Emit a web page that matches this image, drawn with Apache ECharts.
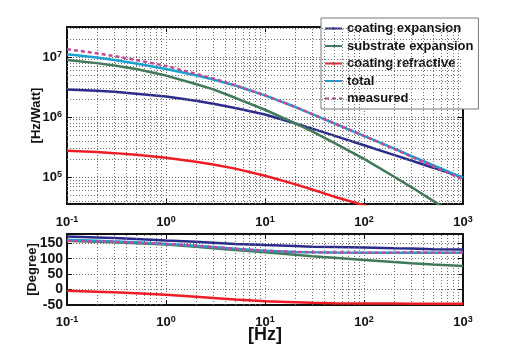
<!DOCTYPE html>
<html>
<head>
<meta charset="utf-8">
<title>Transfer function</title>
<script src="https://cdn.jsdelivr.net/npm/echarts@6/dist/echarts.min.js"></script>
<style>
  html, body { margin: 0; padding: 0; background: #fff; }
  #main { width: 512px; height: 345px; }
</style>
</head>
<body>
<div id="main"></div>
<script>
// frequency points [Hz]
var freq = [0.1, 0.2, 0.3, 0.5, 1, 2, 3, 5, 10, 20, 30, 50, 100, 200, 300, 500, 1000];

// magnitude [Hz/Watt]
var magCoatingExp = [2.88e6, 2.75e6, 2.63e6, 2.45e6, 2.19e6, 1.86e6, 1.66e6, 1.41e6, 1.10e6, 7.85e5, 6.4e5, 4.9e5, 3.39e5, 2.34e5, 1.88e5, 1.43e5, 9.8e4];
var magSubstrateExp = [8.9e6, 7.9e6, 7.2e6, 6.3e6, 4.9e6, 3.55e6, 2.88e6, 2.09e6, 1.32e6, 7.9e5, 5.75e5, 3.7e5, 2.0e5, 1.02e5, 6.8e4, 4.0e4, 1.9e4];
var magCoatingRefr = [2.75e5, 2.6e5, 2.5e5, 2.34e5, 2.09e5, 1.8e5, 1.62e5, 1.38e5, 1.05e5, 7.6e4, 6.2e4, 4.7e4, 3.4e4, 2.3e4, 1.8e4, 1.3e4, 8.5e3];
var magTotal = [1.11e7, 9.8e6, 8.9e6, 7.8e6, 6.3e6, 4.95e6, 4.22e6, 3.35e6, 2.29e6, 1.48e6, 1.12e6, 7.85e5, 4.84e5, 2.99e5, 2.24e5, 1.57e5, 9.7e4];
var magMeasured = [1.35e7, 1.15e7, 1.035e7, 8.9e6, 7.1e6, 5.25e6, 4.37e6, 3.39e6, 2.29e6, 1.48e6, 1.12e6, 7.85e5, 4.84e5, 2.95e5, 2.19e5, 1.51e5, 9.1e4];

// phase [Degree]
var phCoatingExp = [172, 169, 167, 164, 159, 155, 152, 148, 144, 141, 139, 138, 136, 134, 133, 131, 130];
var phSubstrateExp = [158, 155, 153, 150, 146, 139, 134, 128, 121, 113, 108, 103, 96, 89, 85, 81, 76];
var phCoatingRefr = [-4, -7, -9, -12, -17, -23, -27, -32, -38, -41, -43, -44, -45, -45, -46, -46, -46];
var phTotal = [161, 158, 156, 153, 148, 142, 138, 132, 126, 122, 121, 120, 119, 119, 119, 119, 119];
var phMeasured = [158, 156, 155, 152, 148, 142, 138, 132, 126, 122, 121, 120, 119, 119, 121, 119, 119];

var names = ['coating expansion', 'substrate expansion', 'coating refractive', 'total', 'measured'];
var colors = ['#2b2b8c', '#3f7a58', '#ee1c25', '#1aa0d2', '#c24b94'];
var magSets = [magCoatingExp, magSubstrateExp, magCoatingRefr, magTotal, magMeasured];
var phSets = [phCoatingExp, phSubstrateExp, phCoatingRefr, phTotal, phMeasured];

var FONT = '"Liberation Sans", Arial, Helvetica, sans-serif';
var magMin = 35500, magMax = 3.16e7;

function pairs(ys) {
    return freq.map(function (f, i) { return [f, ys[i]]; });
}

// minor grid positions (2..9 in each decade)
var xMinor = [];
[0.1, 1, 10, 100].forEach(function (d) {
    for (var k = 2; k <= 9; k++) xMinor.push(+(k * d).toPrecision(3));
});
var yMinor = [];
[1e4, 1e5, 1e6, 1e7].forEach(function (d) {
    for (var k = 2; k <= 9; k++) {
        var v = k * d;
        if (v > magMin && v < magMax) yMinor.push(v);
    }
});

var gridLine = { type: [1, 2], color: '#6e6e6e', width: 1 };

function powLabel(v) {
    var l = Math.log(v) / Math.LN10;
    var e = Math.round(l);
    if (Math.abs(l - e) > 1e-6) return '';
    return '{b|10}{s|' + e + '}';
}
var powRich = {
    b: { fontSize: 13, fontWeight: 'bold', fontFamily: FONT, color: '#111', lineHeight: 14, padding: [2, 0, 0, 0], verticalAlign: 'bottom' },
    s: { fontSize: 9, fontWeight: 'bold', fontFamily: FONT, color: '#111', lineHeight: 10, verticalAlign: 'top' }
};

function boxAxis(extra) {
    var a = {
        axisLine: { show: true, onZero: false, lineStyle: { color: '#111', width: 2 } },
        axisTick: { show: true, inside: true, length: 5, lineStyle: { color: '#111', width: 1 } },
        splitLine: { show: false },
        axisLabel: { show: false },
        nameMoveOverlap: false
    };
    for (var k in extra) a[k] = extra[k];
    return a;
}

var xAxes = [
    boxAxis({ type: 'log', logBase: 10, min: 0.1, max: 1000, gridIndex: 0, position: 'bottom',
        splitLine: { show: true, lineStyle: gridLine },
        axisLabel: { show: true, margin: 11, formatter: powLabel, rich: powRich } }),
    boxAxis({ type: 'log', logBase: 10, min: 0.1, max: 1000, gridIndex: 0, position: 'top' }),
    boxAxis({ type: 'log', logBase: 10, min: 0.1, max: 1000, gridIndex: 1, position: 'bottom',
        splitLine: { show: true, lineStyle: gridLine },
        axisLabel: { show: true, margin: 10, formatter: powLabel, rich: powRich },
        name: '[Hz]', nameLocation: 'middle', nameGap: 21,
        nameTextStyle: { fontSize: 18, fontWeight: 'bold', fontFamily: FONT, color: '#111' } }),
    boxAxis({ type: 'log', logBase: 10, min: 0.1, max: 1000, gridIndex: 1, position: 'top' })
];

var yAxes = [
    boxAxis({ type: 'log', logBase: 10, min: magMin, max: magMax, gridIndex: 0, position: 'left',
        splitLine: { show: true, lineStyle: gridLine },
        axisLabel: { show: true, margin: 5, formatter: powLabel, rich: powRich },
        name: '[Hz/Watt]', nameLocation: 'middle', nameGap: 24, nameRotate: 90,
        nameTextStyle: { fontSize: 13, fontWeight: 'bold', fontFamily: FONT, color: '#111' } }),
    boxAxis({ type: 'log', logBase: 10, min: magMin, max: magMax, gridIndex: 0, position: 'right' }),
    boxAxis({ type: 'value', min: -50, max: 180, interval: 50, gridIndex: 1, position: 'left',
        splitLine: { show: true, lineStyle: gridLine },
        axisLabel: { show: true, margin: 4, fontSize: 14, fontWeight: 'bold', fontFamily: FONT, color: '#111',
            formatter: function (v) { return (v % 50 === 0) ? String(v) : ''; } },
        name: '[Degree]', nameLocation: 'middle', nameGap: 28, nameRotate: 90,
        nameTextStyle: { fontSize: 13, fontWeight: 'bold', fontFamily: FONT, color: '#111' } }),
    boxAxis({ type: 'value', min: -50, max: 180, interval: 50, gridIndex: 1, position: 'right' })
];

var series = [];

// minor grid carriers
series.push({
    type: 'line', xAxisIndex: 0, yAxisIndex: 0, data: [], z: 1, silent: true,
    markLine: {
        silent: true, symbol: ['none', 'none'], label: { show: false }, animation: false,
        lineStyle: gridLine,
        data: xMinor.map(function (v) { return { xAxis: v }; })
            .concat(yMinor.map(function (v) { return { yAxis: v }; }))
    }
});
series.push({
    type: 'line', xAxisIndex: 2, yAxisIndex: 2, data: [], z: 1, silent: true,
    markLine: {
        silent: true, symbol: ['none', 'none'], label: { show: false }, animation: false,
        lineStyle: gridLine,
        data: xMinor.map(function (v) { return { xAxis: v }; })
    }
});

names.forEach(function (n, i) {
    var ls = { color: colors[i], width: 2.5 };
    if (n === 'measured') ls.type = [4, 3];
    series.push({
        name: n, type: 'line', xAxisIndex: 0, yAxisIndex: 0, data: pairs(magSets[i]),
        symbol: 'none', lineStyle: ls, itemStyle: { color: colors[i] }, z: 3 + i
    });
    series.push({
        name: n, type: 'line', xAxisIndex: 2, yAxisIndex: 2, data: pairs(phSets[i]),
        symbol: 'none', lineStyle: ls, itemStyle: { color: colors[i] }, z: 3 + i
    });
});

var chart = echarts.init(document.getElementById('main'));
chart.setOption({
    animation: false,
    backgroundColor: '#fff',
    grid: [
        { left: 67, top: 27, width: 396, height: 177 },
        { left: 67, top: 234, width: 396, height: 73 }
    ],
    legend: {
        data: names,
        orient: 'vertical',
        left: 321, top: 18,
        padding: [3, 5, 3, 3],
        itemGap: 2.5,
        itemWidth: 17, itemHeight: 3,
        backgroundColor: '#fff',
        borderColor: '#777', borderWidth: 1,
        textStyle: { fontSize: 13, fontWeight: 'bold', fontFamily: FONT, color: '#111', lineHeight: 15 }
    },
    xAxis: xAxes,
    yAxis: yAxes,
    series: series
});
</script>
</body>
</html>
